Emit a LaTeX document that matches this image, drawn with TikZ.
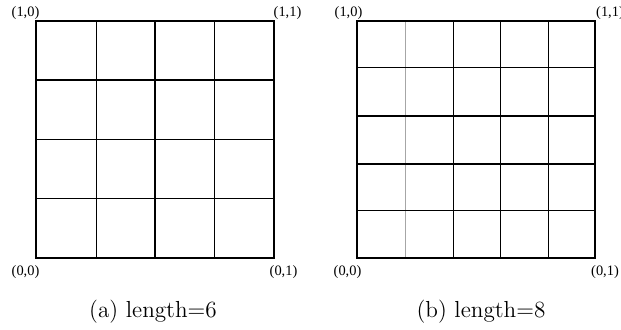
\documentclass[tikz,border=0pt]{standalone}
\usepackage{fontspec}
\newfontfamily\cornerfont{Liberation Serif}
\tikzset{
  thinline/.style={line width=0.5pt},
  midline/.style={line width=0.85pt},
  boldline/.style={line width=1.1pt},
  corner/.style={font=\cornerfont\fontsize{7.2}{8}\selectfont, inner sep=0pt},
  caption/.style={font=\fontsize{11.6}{14}\selectfont, inner sep=0pt}
}
\begin{document}
\begin{tikzpicture}[x=0.5pt,y=-0.5pt]
\useasboundingbox (0,0) rectangle (621,330);
% (a) 4x4 grid
\draw[thinline] (96,21) -- (96,258);
\draw[boldline] (155,21) -- (155,258);
\draw[thinline] (214,21) -- (214,258);
\draw[midline] (36,80) -- (274,80);
\draw[midline] (36,139.5) -- (274,139.5);
\draw[thinline] (36,199) -- (274,199);
\draw[line width=0.6pt] (36,21) rectangle (274,258);
\node[corner] (a10) at (25.5,13) {(1,0)};
\node[corner] (a11) at (287.5,13) {(1,1)};
\node[corner] (a00) at (25.5,272) {(0,0)};
\node[corner] (a01) at (283.5,272) {(0,1)};
\node[caption] (capa) at (153,312) {(a) length=6};
% (b) 5x5 grid
\draw[thinline,gray!70] (405,21) -- (405,258);
\draw[thinline] (453,21) -- (453,258);
\draw[thinline] (500,21) -- (500,258);
\draw[thinline] (548,21) -- (548,258);
\draw[thinline] (357,68) -- (595,68);
\draw[midline] (357,116) -- (595,116);
\draw[midline] (357,164) -- (595,164);
\draw[thinline] (357,211) -- (595,211);
\draw[line width=0.6pt] (357,21) rectangle (595,258);
\node[corner] (b10) at (348.5,13) {(1,0)};
\node[corner] (b11) at (610,13) {(1,1)};
\node[corner] (b00) at (347.5,272) {(0,0)};
\node[corner] (b01) at (605,272) {(0,1)};
\node[caption] (capb) at (481,312) {(b) length=8};
\end{tikzpicture}
\end{document}
